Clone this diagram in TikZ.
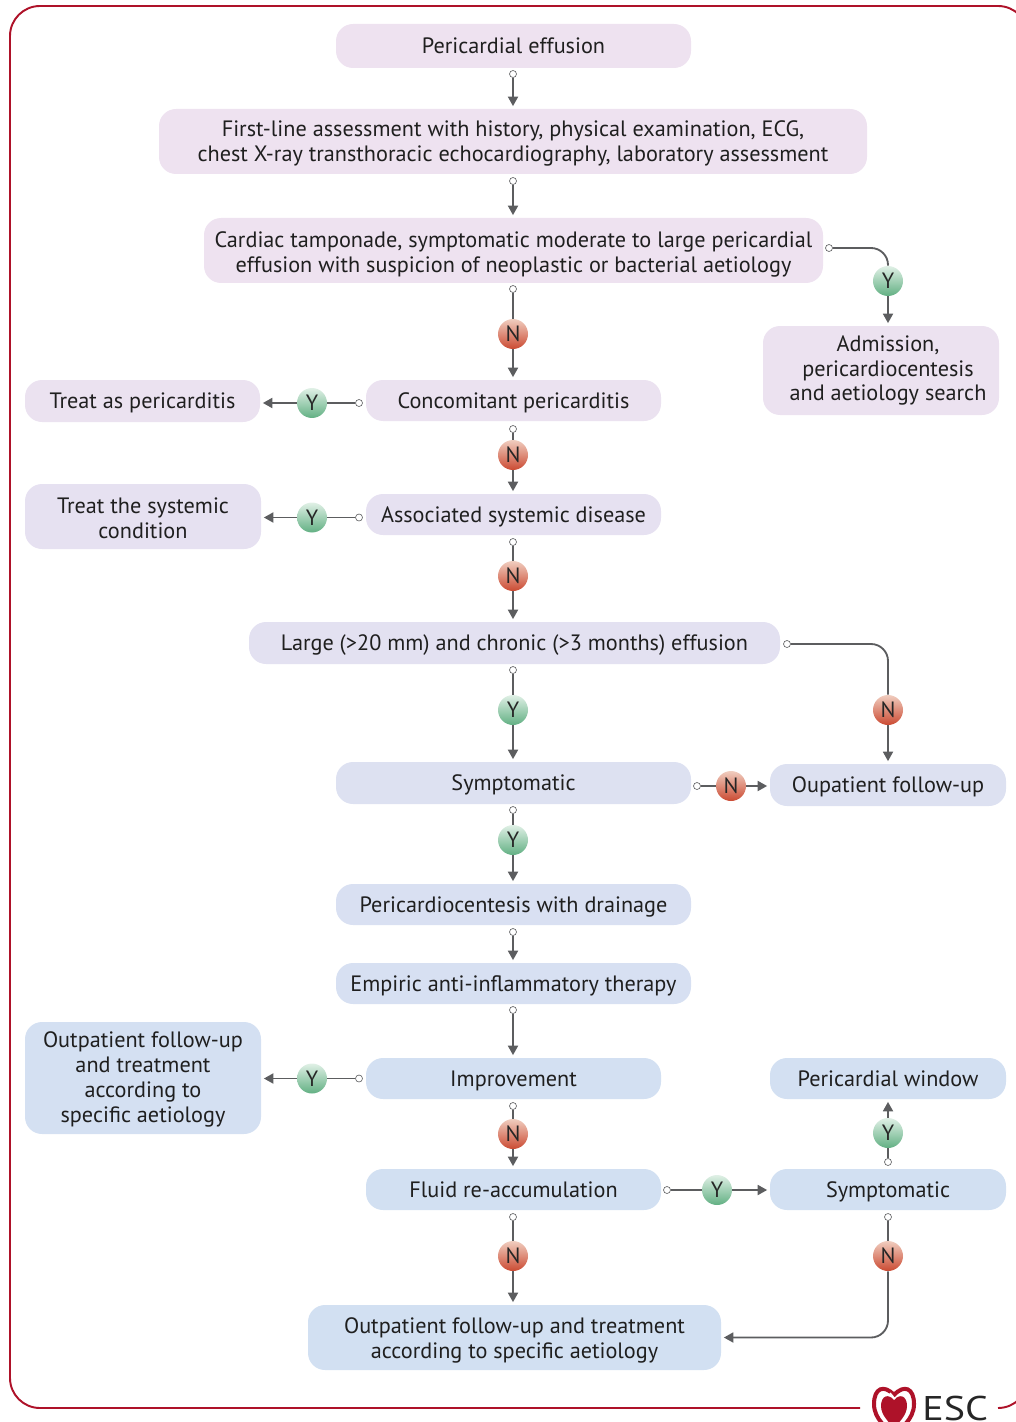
\documentclass[tikz,border=0pt]{standalone}
\usepackage{fontspec}
\setmainfont{PT Sans}
\newfontfamily\escfont[FakeStretch=1.17]{PT Sans}
\usetikzlibrary{arrows.meta}
\definecolor{boxpink}{HTML}{EEE2F0}
\definecolor{boxblue}{HTML}{D2E0F2}
\definecolor{linegrey}{HTML}{5C5D5F}
\definecolor{escred}{HTML}{AE1229}
\definecolor{rimNtop}{HTML}{F0CDBF}
\definecolor{rimNbot}{HTML}{CB4A32}
\definecolor{inNtop}{HTML}{D95A40}
\definecolor{inNbot}{HTML}{F3CFC2}
\definecolor{rimYtop}{HTML}{E0F0E6}
\definecolor{rimYbot}{HTML}{62B083}
\definecolor{inYtop}{HTML}{7FC09A}
\definecolor{inYbot}{HTML}{EAF5EE}
\def\topline#1{\rule{0pt}{#1pt}}
\tikzset{
	bx/.style 2 args={fill=#1, rounded corners=0.34cm, inner sep=0, align=center, text=black!88,
		font=\fontsize{12.65}{14.2}\selectfont, minimum height=#2*0.02cm,
		execute at begin node=\rule{0pt}{11.4pt}, execute at end node=\vphantom{Agy}},
	wd/.style={minimum width=#1*0.02cm},
	start/.style={circle, draw=linegrey, fill=white, line width=0.35pt, inner sep=0, minimum size=0.14cm},
	badgeN/.style={circle, inner sep=0, minimum size=0.6cm, text=black!85, font=\fontsize{12.6}{14}\selectfont,
		top color=rimNtop, bottom color=rimNbot,
		path picture={\shade[top color=inNtop, bottom color=inNbot]
			(path picture bounding box.center) circle (0.245);}},
	badgeY/.style={circle, inner sep=0, minimum size=0.6cm, text=black!85, font=\fontsize{12.6}{14}\selectfont,
		top color=rimYtop, bottom color=rimYbot,
		path picture={\shade[top color=inYtop, bottom color=inYbot]
			(path picture bounding box.center) circle (0.245);}},
	plain/.style={draw=linegrey, line width=1.05pt},
	flow/.style={plain, -{Triangle[length=0.19cm, width=0.2cm]}, shorten >=0.05cm},
}

\begin{document}
\begin{tikzpicture}[x=0.02cm, y=-0.02cm]
		%%%%% START %%%%%
		\useasboundingbox (0, 0) rectangle (1016, 1422);
		\clip (0, 0) rectangle (1016, 1422);
		\draw[escred, line width=1.1pt, rounded corners=0.6cm] (860, 1408) -- (10, 1408) -- (10, 6) -- (1028, 6) -- (1028, 1408) -- (998, 1408);
		
		% boxes
		\node[bx={boxpink}{44}, wd=355] (effusion) at (513.5, 46) {Pericardial effusion};
		\node[bx={boxpink}{65}, wd=708] (firstline) at (513, 141.5) {\topline{10.8}First-line assessment with history, physical examination, ECG,\\chest X-ray transthoracic echocardiography, laboratory assessment};
		\node[bx={boxpink}{65}, wd=619] (tamponade) at (513.5, 250.5) {\topline{13}Cardiac tamponade, symptomatic moderate to large pericardial\\effusion with suspicion of neoplastic or bacterial aetiology};
		\node[bx={boxblue!8!boxpink}{89}, wd=236] (admission) at (881, 370.5) {\hspace*{0.28cm}Admission,\\\hspace*{0.28cm}pericardiocentesis\\\hspace*{0.28cm}and aetiology search};
		\node[bx={boxblue!12!boxpink}{41}, wd=295] (concomitant) at (513.5, 400.5) {Concomitant pericarditis};
		\node[bx={boxblue!12!boxpink}{42}, wd=235] (treatperi) at (142.5, 401) {Treat as pericarditis};
		\node[bx={boxblue!28!boxpink}{41}, wd=295] (systemic) at (513.5, 514.5) {Associated systemic disease};
		\node[bx={boxblue!28!boxpink}{65}, wd=236] (treatsys) at (143, 516.5) {\topline{13}Treat the systemic\\condition};
		\node[bx={boxblue!40!boxpink}{42}, wd=531] (large) at (514.5, 643) {Large (>20 mm) and chronic (>3 months) effusion};
		\node[bx={boxblue!62!boxpink}{42}, wd=355] (symptA) at (513.5, 783) {Symptomatic};
		\node[bx={boxblue!62!boxpink}{42}, wd=236] (followup) at (888, 785) {Oupatient follow-up};
		\node[bx={boxblue!75!boxpink}{41}, wd=355] (drainage) at (513.5, 904.5) {Pericardiocentesis with drainage};
		\node[bx={boxblue!82!boxpink}{41}, wd=355] (empiric) at (513.5, 983.5) {Empiric anti-inflammatory therapy};
		\node[bx={boxblue!95!boxpink}{41}, wd=295] (improve) at (513.5, 1078.5) {Improvement};
		\node[bx={boxblue!92!boxpink}{112}, wd=236] (outleft) at (143, 1078) {\topline{10.8}Outpatient follow-up\\and treatment\\according to\\specific aetiology};
		\node[bx={boxblue!95!boxpink}{41}, wd=236] (window) at (888, 1078.5) {Pericardial window};
		\node[bx={boxblue}{41}, wd=295] (fluid) at (513.5, 1189.5) {Fluid re-accumulation};
		\node[bx={boxblue}{41}, wd=236] (symptB) at (888, 1189.5) {Symptomatic};
		\node[bx={boxblue}{65}, wd=413] (outbottom) at (514.5, 1337.5) {\topline{11.9}Outpatient follow-up and treatment\\according to specific aetiology};
		
		% open circles
		\node[start] (s1) at (513, 74) {};
		\node[start] (s2) at (513, 181) {};
		\node[start] (s3) at (513, 289) {};
		\node[start] (s4) at (829, 248) {};
		\node[start] (s5) at (513, 429) {};
		\node[start] (s6) at (359, 403) {};
		\node[start] (s7) at (513, 542) {};
		\node[start] (s8) at (359, 517.5) {};
		\node[start] (s9) at (513, 670) {};
		\node[start] (s10) at (787, 644) {};
		\node[start] (s11) at (697, 786) {};
		\node[start] (s12) at (513, 810) {};
		\node[start] (s13) at (513, 932) {};
		\node[start] (s14) at (513, 1010) {};
		\node[start] (s15) at (513, 1106) {};
		\node[start] (s16) at (359, 1078.5) {};
		\node[start] (s17) at (513, 1217) {};
		\node[start] (s18) at (667, 1190) {};
		\node[start] (s19) at (888, 1162) {};
		\node[start] (s20) at (888, 1217) {};
		
		% yes and no
		\node[badgeN] (n1) at (513, 334) {N};
		\node[badgeY] (y1) at (888, 281) {Y};
		\node[badgeN] (n2) at (513, 455) {N};
		\node[badgeY] (y2) at (312, 403) {Y};
		\node[badgeN] (n3) at (513, 576) {N};
		\node[badgeY] (y3) at (312, 517.5) {Y};
		\node[badgeY] (y4) at (513, 710) {Y};
		\node[badgeN] (n4) at (888, 710) {N};
		\node[badgeN] (n5) at (731, 786) {N};
		\node[badgeY] (y5) at (513, 840) {Y};
		\node[badgeN] (n6) at (513, 1134) {N};
		\node[badgeY] (y6) at (312, 1078.5) {Y};
		\node[badgeN] (n7) at (513, 1256) {N};
		\node[badgeY] (y7) at (717, 1190) {Y};
		\node[badgeY] (y8) at (888, 1133) {Y};
		\node[badgeN] (n8) at (888, 1256) {N};
		
		% connectors
		\draw[flow] (s1) -- (s1 |- firstline.north);
		\draw[flow] (s2) -- (s2 |- tamponade.north);
		\draw[plain] (s3) -- (n1);
		\draw[flow] (n1) -- (n1 |- concomitant.north);
		\draw[plain, rounded corners=0.34cm] (s4) -| (y1);
		\draw[flow] (y1) -- (y1 |- admission.north);
		\draw[plain] (s5) -- (n2);
		\draw[flow] (n2) -- (n2 |- systemic.north);
		\draw[plain] (s6) -- (y2);
		\draw[flow] (y2) -- (y2 -| treatperi.east);
		\draw[plain] (s7) -- (n3);
		\draw[flow] (n3) -- (n3 |- large.north);
		\draw[plain] (s8) -- (y3);
		\draw[flow] (y3) -- (y3 -| treatsys.east);
		\draw[plain] (s9) -- (y4);
		\draw[flow] (y4) -- (y4 |- symptA.north);
		\draw[plain, rounded corners=0.34cm] (s10) -| (n4);
		\draw[flow] (n4) -- (n4 |- followup.north);
		\draw[plain] (s11) -- (n5);
		\draw[flow] (n5) -- (n5 -| followup.west);
		\draw[plain] (s12) -- (y5);
		\draw[flow] (y5) -- (y5 |- drainage.north);
		\draw[flow] (s13) -- (s13 |- empiric.north);
		\draw[flow] (s14) -- (s14 |- improve.north);
		\draw[plain] (s15) -- (n6);
		\draw[flow] (n6) -- (n6 |- fluid.north);
		\draw[plain] (s16) -- (y6);
		\draw[flow] (y6) -- (y6 -| outleft.east);
		\draw[plain] (s17) -- (n7);
		\draw[flow] (n7) -- (n7 |- outbottom.north);
		\draw[plain] (s18) -- (y7);
		\draw[flow] (y7) -- (y7 -| symptB.west);
		\draw[plain] (s19) -- (y8);
		\draw[flow] (y8) -- (y8 |- window.south);
		\draw[plain] (s20) -- (n8);
		\draw[flow, rounded corners=0.34cm] (n8) |- (outbottom.east);
		
		% logo
		\draw[escred, line width=2.3pt] (894, 1395) .. controls (884, 1384) and (874, 1388) .. (874, 1404) .. controls (874, 1420) and (888, 1428) .. (894, 1436) .. controls (900, 1428) and (914, 1420) .. (914, 1404) .. controls (914, 1388) and (904, 1384) .. (894, 1395) -- cycle;
		\fill[escred] (894, 1400) .. controls (888, 1393) and (881, 1396) .. (881, 1406) .. controls (881, 1416) and (890, 1422) .. (894, 1430) .. controls (898, 1422) and (907, 1416) .. (907, 1406) .. controls (907, 1396) and (900, 1393) .. (894, 1400) -- cycle;
		\draw[white, line width=0.9pt] (890, 1393) -- (895, 1399);
		\node[inner sep=0, anchor=base west, text=black!85, font=\fontsize{19.5}{20}\escfont] (esc) at (922, 1420) {ESC};
		%%%%% END %%%%%
	\end{tikzpicture}
\end{document}
